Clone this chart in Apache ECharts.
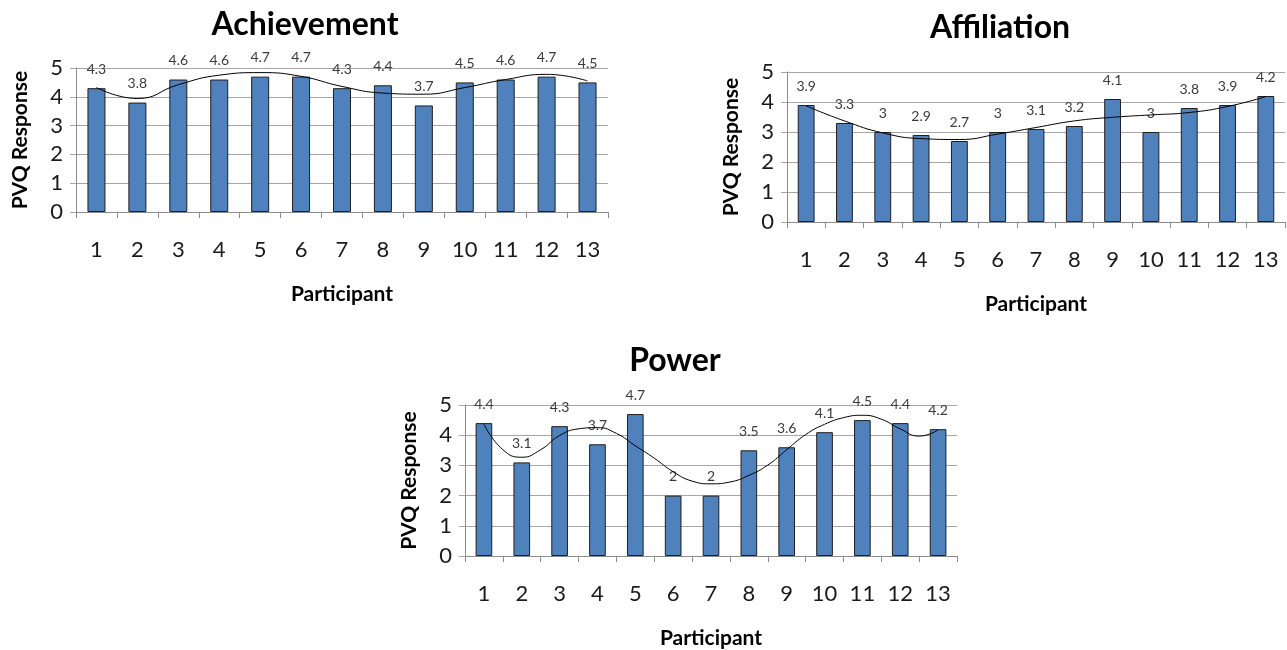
<!DOCTYPE html>
<html>
<head>
<meta charset="utf-8">
<script src="https://cdn.jsdelivr.net/npm/echarts@6/dist/echarts.min.js"></script>
<style>
html, body { margin: 0; padding: 0; background: #fff; }
#chart { width: 1287px; height: 650px; }
</style>
</head>
<body>
<div id="chart"></div>
<script>
let $ = a => document.querySelector(a)

// data
const participants = ['1', '2', '3', '4', '5', '6', '7', '8', '9', '10', '11', '12', '13']
const yTicks = [0, 1, 2, 3, 4, 5]

const achievement = [4.3, 3.8, 4.6, 4.6, 4.7, 4.7, 4.3, 4.4, 3.7, 4.5, 4.6, 4.7, 4.5]
const affiliation = [3.9, 3.3, 3, 2.9, 2.7, 3, 3.1, 3.2, 4.1, 3, 3.8, 3.9, 4.2]
const power = [4.4, 3.1, 4.3, 3.7, 4.7, 2, 2, 3.5, 3.6, 4.1, 4.5, 4.4, 4.2]

// trend lines, [participant, value]
const achievementTrend = [[1, 4.32], [2, 3.94], [3, 4.42], [4, 4.75], [5, 4.84], [6, 4.71], [7, 4.36],
  [8, 4.13], [9, 4.09], [10, 4.32], [11, 4.6], [12, 4.78], [13, 4.55]]
const affiliationTrend = [[1, 3.87], [2, 3.37], [3, 2.97], [4, 2.78], [5, 2.75], [6, 2.93], [7, 3.15],
  [8, 3.37], [9, 3.49], [10, 3.57], [11, 3.65], [12, 3.85], [13, 4.18]]
const powerTrend = [[1, 4.36], [1.5, 3.52], [2, 3.27], [2.5, 3.52], [3, 3.99], [3.5, 4.21], [4, 4.25],
  [4.5, 4.06], [5, 3.65], [5.5, 3.24], [6, 2.79], [6.5, 2.48], [7, 2.39], [7.5, 2.45], [8, 2.67],
  [8.5, 3.01], [9, 3.52], [9.5, 4.02], [10, 4.36], [10.5, 4.58], [11, 4.66], [11.5, 4.53],
  [12, 4.21], [12.5, 3.97], [13, 4.17]]

const titles = ['Achievement', 'Affiliation', 'Power']

// layout of the three panels
const panels = [
  { grid: { left: 76, top: 68, width: 532, height: 144 }, title: { left: 300, top: 4 } },
  { grid: { left: 787, top: 72, width: 498, height: 150 }, title: { left: 995, top: 7 } },
  { grid: { left: 465, top: 405, width: 492, height: 152 }, title: { left: 670, top: 340 } }
]

const font = 'Lato, "Open Sans", sans-serif'
const gridColor = '#a6a6a6'
const axisColor = '#8c8c8c'

let values = [achievement, affiliation, power]
let trends = [achievementTrend, affiliationTrend, powerTrend]

let option = {
  backgroundColor: '#fff',
  animation: false,
  title: [],
  grid: [],
  xAxis: [],
  yAxis: [],
  series: []
}

panels.forEach((p, i) => {
  option.title.push({
    text: titles[i],
    left: p.title.left,
    top: p.title.top,
    textAlign: 'center',
    textStyle: { fontFamily: font, fontSize: 32, fontWeight: 'bold', color: '#000' }
  })
  option.grid.push(p.grid)

  // category axis for the bars
  option.xAxis.push({
    type: 'category',
    gridIndex: i,
    data: participants,
    name: 'Participant',
    nameLocation: 'middle',
    nameGap: 72,
    nameTextStyle: { fontFamily: font, fontSize: 21, fontWeight: 'bold', color: '#000' },
    axisLine: { lineStyle: { color: axisColor } },
    axisTick: { show: true, length: 6, lineStyle: { color: axisColor } },
    axisLabel: { margin: 27, fontFamily: font, fontSize: 22, color: '#1a1a1a' }
  })
  // value axis for the trend line, 1..13 sitting on the category centres
  option.xAxis.push({
    type: 'value',
    gridIndex: i,
    min: 0.5,
    max: 13.5,
    show: false
  })

  option.yAxis.push({
    type: 'value',
    gridIndex: i,
    min: yTicks[0],
    max: yTicks[yTicks.length - 1],
    interval: 1,
    name: 'PVQ Response',
    nameLocation: 'middle',
    nameGap: 45,
    nameTextStyle: { fontFamily: font, fontSize: 21, fontWeight: 'bold', color: '#000' },
    axisLine: { show: true, lineStyle: { color: axisColor } },
    axisTick: { show: true, length: 6, lineStyle: { color: gridColor } },
    axisLabel: { margin: 13, fontFamily: font, fontSize: 22, color: '#1a1a1a' },
    splitLine: { lineStyle: { color: gridColor, width: 1 } }
  })

  option.series.push({
    type: 'bar',
    xAxisIndex: i * 2,
    yAxisIndex: i,
    data: values[i],
    barWidth: '44%',
    itemStyle: { color: '#4f81bd', borderColor: '#1f1f1f', borderWidth: 1 },
    label: {
      show: true,
      position: 'top',
      distance: 12,
      fontFamily: font,
      fontSize: 14,
      color: '#3a3a3a'
    }
  })

  option.series.push({
    type: 'line',
    xAxisIndex: i * 2 + 1,
    yAxisIndex: i,
    data: trends[i],
    smooth: 0.5,
    symbol: 'none',
    lineStyle: { color: '#000', width: 1 },
    z: 5
  })
})

echarts.init($('#chart')).setOption(option)
</script>
</body>
</html>
